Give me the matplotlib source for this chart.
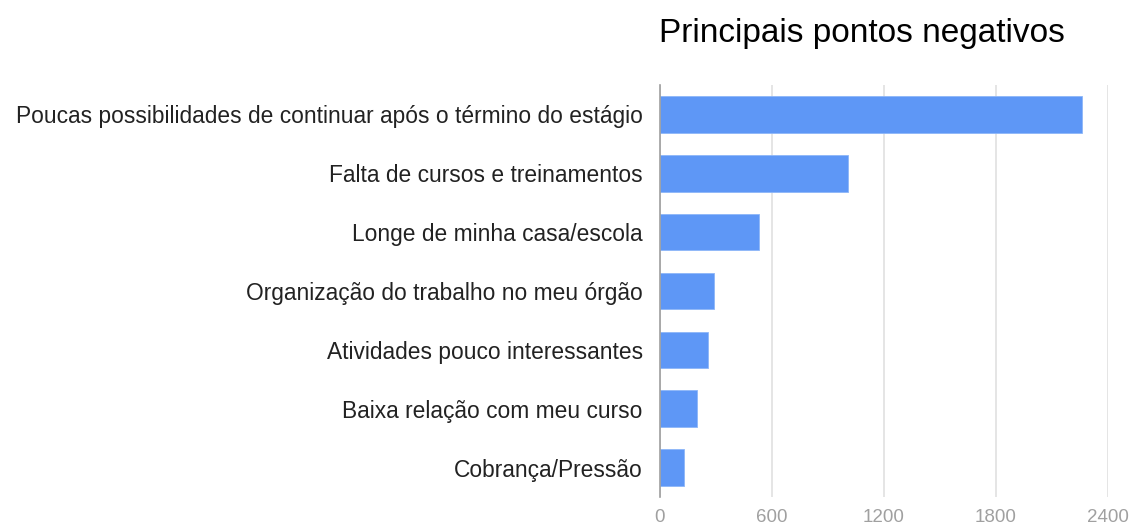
import matplotlib
matplotlib.use("Agg")
import matplotlib.pyplot as plt

categories = [
    "Poucas possibilidades de continuar após o término do estágio",
    "Falta de cursos e treinamentos",
    "Longe de minha casa/escola",
    "Organização do trabalho no meu órgão",
    "Atividades pouco interessantes",
    "Baixa relação com meu curso",
    "Cobrança/Pressão",
]
values = [2261, 1008, 530, 291, 261, 202, 131]
xticks = [0, 600, 1200, 1800, 2400]
title = "Principais pontos negativos"

plt.rcParams['font.family'] = ['Liberation Sans', 'DejaVu Sans']

W, H = 1131, 527
fig = plt.figure(figsize=(W / 100, H / 100), dpi=100)
ax = fig.add_axes([659.5 / W, (H - 497) / H, (1108 - 659.5) / W, 412 / H])

y = list(range(len(categories)))
ax.barh(y, values, height=0.62, color="#5e97f6", edgecolor="#8db6f8", linewidth=0.6, zorder=3)
ax.set_ylim(len(categories) - 0.5, -0.5)
ax.set_xlim(0, 2400)
ax.set_xticks(xticks)
ax.set_xticklabels([str(t) for t in xticks], color="#a0a0a0", fontsize=13.5)
ax.set_yticks(y)
ax.set_yticklabels(categories, color="#222222", fontsize=16.4)
ax.tick_params(axis="both", length=0)
ax.tick_params(axis="x", pad=9)
ax.tick_params(axis="y", pad=12)
ax.grid(axis="x", color="#e0e0e0", linewidth=1.2, zorder=0)
for s in ["top", "right", "bottom"]:
    ax.spines[s].set_visible(False)
ax.spines["left"].set_color("#9e9e9e")
ax.spines["left"].set_linewidth(1.2)
ax.spines["left"].set_zorder(4)

fig.text(659 / W, 1 - 42 / H, title, ha="left", va="baseline", fontsize=24, color="#000000")

fig.savefig("out.png", dpi=100, facecolor="white")
